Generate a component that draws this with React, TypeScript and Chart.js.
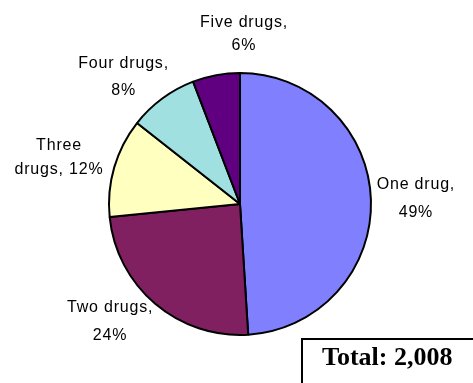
import React, { useEffect, useRef } from "react";
import { Chart, registerables } from "chart.js";

Chart.register(...registerables);

const categories = ["One drug", "Two drugs", "Three drugs", "Four drugs", "Five drugs"];
const counts = [984, 490, 245, 172, 117];
const percentLabels = ["49%", "24%", "12%", "8%", "6%"];
const labelLines = [
  ["One drug,", "49%"],
  ["Two drugs,", "24%"],
  ["Three", "drugs, 12%"],
  ["Four drugs,", "8%"],
  ["Five drugs,", "6%"],
];
const totalText = "Total: 2,008";

const COLORS = ["#8080FF", "#802060", "#FFFFC0", "#A0E0E0", "#600080"];
const LABEL_DIST = 45;
const LABEL_NUDGE = [
  [0, 0],
  [-16, -17],
  [-12, 3],
  [-12, 15],
  [36, 3],
];
const LINE_GAP = [28, 28, 24, 27, 23];

const labelPlugin = {
  id: "sliceLabels",
  afterDraw(chart: any) {
    const ctx = chart.ctx;
    const meta = chart.getDatasetMeta(0);
    ctx.save();
    ctx.fillStyle = "#000";
    ctx.font = "16px 'Liberation Sans', Arial, sans-serif";
    (ctx as any).letterSpacing = "0.8px";
    ctx.textAlign = "center";
    ctx.textBaseline = "middle";
    meta.data.forEach((arc: any, i: number) => {
      const p = arc.getProps(["x", "y", "startAngle", "endAngle", "outerRadius"], true);
      const mid = (p.startAngle + p.endAngle) / 2;
      const d = p.outerRadius + LABEL_DIST;
      const cx = p.x + Math.cos(mid) * d + LABEL_NUDGE[i][0];
      const cy = p.y + Math.sin(mid) * d + LABEL_NUDGE[i][1];
      const lines = labelLines[i];
      const gap = LINE_GAP[i];
      const y0 = cy - ((lines.length - 1) * gap) / 2;
      lines.forEach((t, j) => ctx.fillText(t, cx, y0 + j * gap));
    });
    (ctx as any).letterSpacing = "0px";
    // Total box
    ctx.lineWidth = 2;
    ctx.strokeStyle = "#000";
    ctx.strokeRect(302, 339, 220, 100);
    ctx.font = "bold 26px 'Liberation Serif', 'Times New Roman', serif";
    ctx.textAlign = "left";
    ctx.textBaseline = "middle";
    ctx.fillText(totalText, 322, 358);
    ctx.restore();
  },
};

export default function App() {
  const ref = useRef<HTMLCanvasElement | null>(null);
  useEffect(() => {
    if (!ref.current) return;
    const chart = new Chart(ref.current, {
      type: "pie",
      data: {
        labels: categories,
        datasets: [
          {
            data: counts,
            backgroundColor: COLORS,
            borderColor: "#000",
            borderWidth: 2,
            borderAlign: "center",
          } as any,
        ],
      },
      options: {
        responsive: false,
        maintainAspectRatio: false,
        animation: false,
        radius: 131,
        layout: { padding: { left: 7, right: 0, top: 25, bottom: 0 } },
        plugins: {
          legend: { display: false },
          tooltip: { enabled: false },
          title: { display: false },
        },
      } as any,
      plugins: [labelPlugin],
    });
    return () => chart.destroy();
  }, []);
  return (
    <div style={{ position: "absolute", left: 0, top: 0, width: 473, height: 383, overflow: "hidden", background: "#fff" }}>
      <canvas ref={ref} width={473} height={383} style={{ display: "block" }} />
    </div>
  );
}
